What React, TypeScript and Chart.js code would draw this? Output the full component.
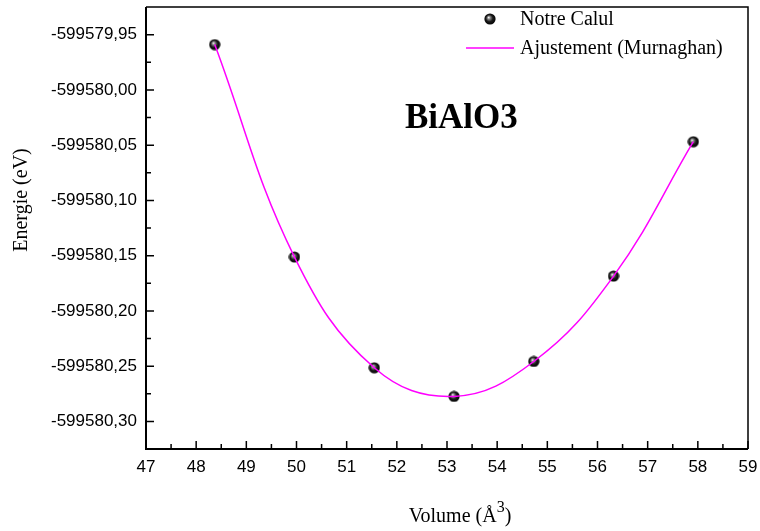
import React, { useEffect, useRef } from "react";
import { Chart, registerables } from "chart.js";

Chart.register(...registerables);

// Calculated total energies (eV) against cell volume (Å^3)
const volumes = [48.37, 49.96, 51.55, 53.14, 54.73, 56.32, 57.91];
const energies = [
  -599579.959, -599580.1513, -599580.2515, -599580.2774, -599580.2458,
  -599580.1685, -599580.0469,
];

const xTicks = [47, 48, 49, 50, 51, 52, 53, 54, 55, 56, 57, 58, 59];
const yTicks = [
  -599579.95, -599580.0, -599580.05, -599580.1, -599580.15, -599580.2,
  -599580.25, -599580.3,
];

const seriesLabels = ["Notre Calul", "Ajustement (Murnaghan)"];
const compound = "BiAlO3";

const SERIF = '"Liberation Serif", "Times New Roman", serif';
const SANS = '"Liberation Sans", Arial, sans-serif';

function makeSphere(): HTMLCanvasElement {
  const c = document.createElement("canvas");
  c.width = 12;
  c.height = 12;
  const g = c.getContext("2d")!;
  const grad = g.createRadialGradient(4.6, 4.4, 0.3, 6, 6, 6);
  grad.addColorStop(0, "#f2f2f2");
  grad.addColorStop(0.2, "#8a8a8a");
  grad.addColorStop(0.55, "#1a1a1a");
  grad.addColorStop(1, "#000000");
  g.fillStyle = grad;
  g.beginPath();
  g.arc(6, 6, 5.6, 0, Math.PI * 2);
  g.fill();
  return c;
}

export default function App() {
  const ref = useRef<HTMLCanvasElement | null>(null);

  useEffect(() => {
    if (!ref.current) return;
    const sphere = makeSphere();
    const magenta = "#ff00ff";

    const decorations = {
      id: "decorations",
      afterDraw(chart: any) {
        const ctx = chart.ctx as CanvasRenderingContext2D;
        const { left, right, top, bottom } = chart.chartArea;
        const xs = chart.scales.x;
        const ys = chart.scales.y;
        ctx.save();

        // frame
        ctx.strokeStyle = "#000";
        ctx.lineWidth = 1.5;
        ctx.beginPath();
        ctx.moveTo(left, top);
        ctx.lineTo(right, top);
        ctx.lineTo(right, bottom);
        ctx.stroke();
        ctx.lineWidth = 2;
        ctx.beginPath();
        ctx.moveTo(left, top);
        ctx.lineTo(left, bottom);
        ctx.lineTo(right, bottom);
        ctx.stroke();

        // inward ticks, major and minor
        ctx.lineWidth = 1.5;
        ctx.beginPath();
        for (let i = 0; i < xTicks.length; i++) {
          const px = xs.getPixelForValue(xTicks[i]);
          ctx.moveTo(px, bottom);
          ctx.lineTo(px, bottom - 8);
          if (i < xTicks.length - 1) {
            const mx = xs.getPixelForValue((xTicks[i] + xTicks[i + 1]) / 2);
            ctx.moveTo(mx, bottom);
            ctx.lineTo(mx, bottom - 5);
          }
        }
        const half = (yTicks[1] - yTicks[0]) / 2;
        for (let i = 0; i < yTicks.length; i++) {
          const py = ys.getPixelForValue(yTicks[i]);
          ctx.moveTo(left, py);
          ctx.lineTo(left + 8, py);
          for (const mv of [yTicks[i] + half, yTicks[i] - half]) {
            const my = ys.getPixelForValue(mv);
            if (my > top + 1 && my < bottom - 1) {
              ctx.moveTo(left, my);
              ctx.lineTo(left + 5, my);
            }
          }
        }
        ctx.stroke();

        // axis titles
        ctx.fillStyle = "#000";
        ctx.font = `20px ${SERIF}`;
        ctx.textAlign = "center";
        ctx.textBaseline = "middle";
        ctx.save();
        ctx.translate(22, 200);
        ctx.rotate(-Math.PI / 2);
        ctx.fillText("Energie (eV)", 0, 0);
        ctx.restore();

        const base = "Volume (Å";
        const sup = "3";
        const close = ")";
        ctx.textAlign = "left";
        ctx.textBaseline = "alphabetic";
        ctx.font = `20px ${SERIF}`;
        const wBase = ctx.measureText(base).width;
        const wClose = ctx.measureText(close).width;
        ctx.font = `16px ${SERIF}`;
        const wSup = ctx.measureText(sup).width;
        const total = wBase + wSup + wClose;
        let tx = 460 - total / 2;
        const baseY = 522;
        ctx.font = `20px ${SERIF}`;
        ctx.fillText(base, tx, baseY);
        tx += wBase;
        ctx.font = `16px ${SERIF}`;
        ctx.fillText(sup, tx, baseY - 10);
        tx += wSup;
        ctx.font = `20px ${SERIF}`;
        ctx.fillText(close, tx, baseY);

        // compound name
        ctx.font = `bold 35px ${SERIF}`;
        ctx.fillText(compound, 405, 128);

        // legend
        ctx.font = `20px ${SERIF}`;
        ctx.textBaseline = "middle";
        ctx.drawImage(sphere, 490 - 6, 19 - 6);
        ctx.fillText(seriesLabels[0], 520, 20);
        ctx.strokeStyle = magenta;
        ctx.lineWidth = 1.5;
        ctx.beginPath();
        ctx.moveTo(466, 48);
        ctx.lineTo(514, 48);
        ctx.stroke();
        ctx.fillText(seriesLabels[1], 520, 49);

        ctx.restore();
      },
    };

    const chart = new Chart(ref.current, {
      type: "scatter",
      data: {
        datasets: [
          {
            label: seriesLabels[0],
            data: volumes.map((v, i) => ({ x: v, y: energies[i] })),
            pointStyle: sphere as any,
            pointRadius: 6,
            showLine: false,
            order: 1,
          },
          {
            label: seriesLabels[1],
            data: volumes.map((v, i) => ({ x: v, y: energies[i] })),
            showLine: true,
            borderColor: magenta,
            borderWidth: 1.5,
            pointRadius: 0,
            tension: 0.4,
            fill: false,
            order: 0,
          },
        ],
      },
      options: {
        responsive: false,
        animation: false,
        devicePixelRatio: 1,
        layout: { padding: { top: 6, right: 12, left: 0, bottom: 0 } },
        plugins: {
          legend: { display: false },
          tooltip: { enabled: false },
        },
        scales: {
          x: {
            type: "linear",
            min: 47,
            max: 59,
            grid: { display: false, drawTicks: false },
            border: { display: false },
            afterBuildTicks: (s: any) => {
              s.ticks = xTicks.map((v) => ({ value: v }));
            },
            afterFit: (s: any) => {
              s.height = 82;
              s.paddingLeft = 0;
              s.paddingRight = 0;
            },
            ticks: {
              padding: 8,
              color: "#000",
              font: { family: SANS, size: 17 },
              callback: (v: any) => String(v),
            },
          },
          y: {
            type: "linear",
            min: -599580.325,
            max: -599579.925,
            grid: { display: false, drawTicks: false },
            border: { display: false },
            afterBuildTicks: (s: any) => {
              s.ticks = yTicks.map((v) => ({ value: v }));
            },
            afterFit: (s: any) => {
              s.width = 146;
              s.paddingTop = 0;
              s.paddingBottom = 0;
            },
            ticks: {
              padding: 9,
              color: "#000",
              font: { family: SANS, size: 17 },
              callback: (v: any) => Number(v).toFixed(2).replace(".", ","),
            },
          },
        },
      },
      plugins: [decorations],
    });

    return () => chart.destroy();
  }, []);

  return (
    <div
      style={{
        position: "fixed",
        left: 0,
        top: 0,
        width: 760,
        height: 531,
        background: "#fff",
      }}
    >
      <canvas ref={ref} width={760} height={531} />
    </div>
  );
}
